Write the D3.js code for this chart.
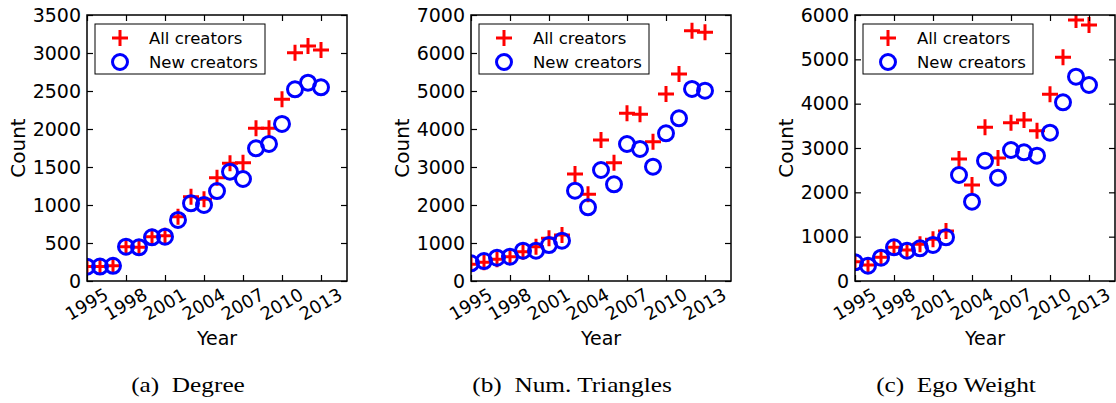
<!DOCTYPE html>
<html>
<head>
<meta charset="utf-8">
<script src="https://cdn.jsdelivr.net/npm/d3@7/dist/d3.min.js"></script>
<style>
  html, body { margin: 0; padding: 0; background: #fff; }
  svg { display: block; }
</style>
</head>
<body>
<svg id="fig" width="1116" height="403"></svg>
<script>
// Yearly counts per metric: all creators vs. new creators
const years = [1995, 1996, 1997, 1998, 1999, 2000, 2001, 2002, 2003, 2004,
               2005, 2006, 2007, 2008, 2009, 2010, 2011, 2012, 2013];
const xTickYears = [1995, 1998, 2001, 2004, 2007, 2010, 2013];

const degreeAll = [190, 190, 200, 452, 443, 583, 596, 846, 1110, 1075,
                   1360, 1548, 1557, 2009, 2009, 2390, 3004, 3092, 3039];
const degreeNew = [189, 190, 200, 452, 443, 575, 583, 803, 1022, 1000,
                   1184, 1439, 1342, 1746, 1803, 2066, 2522, 2610, 2548];

const trianglesAll = [439, 491, 570, 640, 772, 904, 1123, 1211, 2816, 2281,
                      3711, 3114, 4412, 4386, 3667, 4921, 5447, 6588, 6544];
const trianglesNew = [465, 526, 614, 640, 798, 798, 947, 1061, 2377, 1939,
                      2921, 2544, 3605, 3474, 3009, 3886, 4281, 5053, 5009];

const egoAll = [436, 361, 534, 759, 700, 827, 940, 1128, 2752, 2165,
                3467, 2775, 3571, 3632, 3391, 4211, 5045, 5887, 5774];
const egoNew = [421, 346, 526, 759, 684, 737, 812, 985, 2391, 1789,
                2714, 2331, 2955, 2903, 2827, 3346, 4030, 4609, 4421];

const yTicksDegree = [0, 500, 1000, 1500, 2000, 2500, 3000, 3500];
const yTicksTriangles = [0, 1000, 2000, 3000, 4000, 5000, 6000, 7000];
const yTicksEgo = [0, 1000, 2000, 3000, 4000, 5000, 6000];

const xDomain = [1995, 2015];
const seriesNames = ["All creators", "New creators"];
const captions = ["(a)", "(b)", "(c)"];
const captionTitles = ["Degree", "Num. Triangles", "Ego Weight"];

const panels = [
  { all: degreeAll, nw: degreeNew, yTicks: yTicksDegree },
  { all: trianglesAll, nw: trianglesNew, yTicks: yTicksTriangles },
  { all: egoAll, nw: egoNew, yTicks: yTicksEgo }
];

const RED = "#ff0000", BLUE = "#0000ff";
const FONT = "DejaVu Sans, sans-serif";
const plotLefts = [87, 471, 855];
const plotW = 260, plotTop = 15, plotBottom = 281;

const svg = d3.select("#fig");

function plusPath(s) {
  return `M${-s},0H${s}M0,${-s}V${s}`;
}

panels.forEach((p, i) => {
  const left = plotLefts[i];
  const g = svg.append("g").attr("transform", `translate(${left},${plotTop})`);
  const w = plotW, h = plotBottom - plotTop;

  const x = d3.scaleLinear().domain(xDomain).range([0, w]);
  const y = d3.scaleLinear().domain([p.yTicks[0], p.yTicks[p.yTicks.length - 1]]).range([h, 0]);

  const clipId = "clip" + i;
  g.append("clipPath").attr("id", clipId)
    .append("rect").attr("width", w).attr("height", h);

  const marks = g.append("g").attr("clip-path", `url(#${clipId})`);

  // "All creators" pluses underneath
  marks.selectAll("path.plus").data(years.map((yr, k) => [yr, p.all[k]]))
    .join("path").attr("class", "plus")
    .attr("d", plusPath(8))
    .attr("transform", d => `translate(${x(d[0])},${y(d[1])})`)
    .attr("fill", "none").attr("stroke", RED).attr("stroke-width", 3);

  // "New creators" hollow circles on top
  marks.selectAll("circle").data(years.map((yr, k) => [yr, p.nw[k]]))
    .join("circle")
    .attr("cx", d => x(d[0])).attr("cy", d => y(d[1])).attr("r", 7.5)
    .attr("fill", "none").attr("stroke", BLUE).attr("stroke-width", 3);

  // Axes with inward ticks on all four sides
  const bottom = g.append("g").attr("transform", `translate(0,${h})`)
    .call(d3.axisBottom(x).tickValues(xTickYears).tickFormat(d3.format("d"))
      .tickSizeInner(-6).tickSizeOuter(0));
  bottom.selectAll("text")
    .attr("y", null).attr("dy", null)
    .attr("transform", "translate(-1,23) rotate(-30)")
    .attr("text-anchor", "middle")
    .attr("dominant-baseline", "central")
    .style("font-family", FONT).style("font-size", "18px").attr("fill", "#000");

  const leftAx = g.append("g")
    .call(d3.axisLeft(y).tickValues(p.yTicks).tickFormat(d3.format("d"))
      .tickSizeInner(-6).tickSizeOuter(0).tickPadding(6));
  leftAx.selectAll("text")
    .style("font-family", FONT).style("font-size", "19px").attr("fill", "#000");

  g.append("g")
    .call(d3.axisTop(x).tickValues(xTickYears).tickFormat("")
      .tickSizeInner(-6).tickSizeOuter(0));
  g.append("g").attr("transform", `translate(${w},0)`)
    .call(d3.axisRight(y).tickValues(p.yTicks).tickFormat("")
      .tickSizeInner(-6).tickSizeOuter(0));

  g.selectAll(".domain").remove();
  g.selectAll(".tick line").attr("stroke", "#000").attr("stroke-width", 1.2);

  g.append("rect").attr("width", w).attr("height", h)
    .attr("fill", "none").attr("stroke", "#000").attr("stroke-width", 1.5);

  // Axis titles
  g.append("text")
    .attr("transform", `translate(${-62},${h / 2}) rotate(-90)`)
    .attr("text-anchor", "middle")
    .style("font-family", FONT).style("font-size", "20px")
    .text("Count");
  g.append("text")
    .attr("x", w / 2).attr("y", 345 - plotTop)
    .attr("text-anchor", "middle")
    .style("font-family", FONT).style("font-size", "19px")
    .text("Year");

  // Legend
  const lg = g.append("g").attr("transform", "translate(8,9)");
  lg.append("rect").attr("width", 170).attr("height", 50)
    .attr("fill", "#fff").attr("stroke", "#000").attr("stroke-width", 1);
  lg.append("path").attr("d", plusPath(8))
    .attr("transform", "translate(25,14)")
    .attr("fill", "none").attr("stroke", RED).attr("stroke-width", 3);
  lg.append("circle").attr("cx", 25).attr("cy", 38).attr("r", 7.5)
    .attr("fill", "none").attr("stroke", BLUE).attr("stroke-width", 3);
  lg.selectAll("text.leg").data(seriesNames).join("text")
    .attr("class", "leg")
    .attr("x", 54).attr("y", (d, k) => 19.5 + k * 24)
    .style("font-family", FONT).style("font-size", "16.5px")
    .text(d => d);

  // Sub-figure caption
  const cap = svg.append("text")
    .attr("transform", `translate(${left + w / 2 - 29},392) scale(1.15,1)`)
    .attr("text-anchor", "middle")
    .style("font-family", "Liberation Serif, Times New Roman, serif")
    .style("font-size", "22px");
  cap.text(captions[i] + "\u2002" + captionTitles[i]);
});
</script>
</body>
</html>
